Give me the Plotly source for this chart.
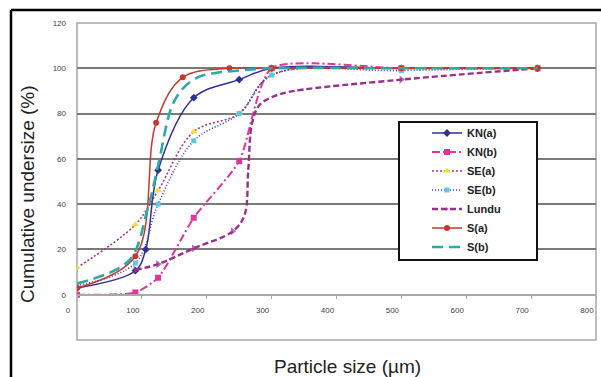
import plotly.graph_objects as go

# ---- data ----
kna_x = [0, 90, 106, 125, 180, 250, 300, 500, 710]
kna_y = [3, 10.6, 20, 55, 87, 95, 100, 100, 100]

knb_x = [0, 90, 125, 180, 250, 300, 500, 710]
knb_y = [0, 1, 7.5, 34, 59, 100, 100, 100]

sea_x = [0, 90, 125, 180, 250, 300, 500, 710]
sea_y = [12, 31, 46, 72, 80, 97, 100, 100]

seb_x = [0, 90, 125, 180, 250, 300, 500, 710]
seb_y = [4, 14, 40, 68, 80, 97, 99, 100]

lundu_x = [90, 125, 180, 240, 258, 264, 270, 282, 307, 335, 500, 710]
lundu_y = [11, 13.5, 20.5, 28, 35, 55, 76, 84, 88, 90, 95, 100]
lundu_marked = [90, 125, 180, 240, 500, 710]

sa_x = [0, 90, 122, 163, 235, 300, 500, 710]
sa_y = [3, 17, 76, 96, 100, 100, 100, 100]

sb_x = [0, 80, 108, 125, 146, 163, 186, 215, 250, 300, 500, 710]
sb_y = [5, 15, 37, 57, 83, 91, 96, 98, 99, 100, 100, 100]
sb_marked = [0, 80, 125, 300, 500, 710]

x_ticks = [0, 100, 200, 300, 400, 500, 600, 700, 800]
y_ticks = [0, 20, 40, 60, 80, 100, 120]

# ---- layout geometry (pixels) ----
W, H = 601, 377
L, R, T, B = 77, 596, 23, 340
pw, ph = R - L, B - T


def px(xp):
    return (xp - L) / pw


def py(yp):
    return (B - yp) / ph


FONT = "Liberation Sans, Arial, sans-serif"

fig = go.Figure()


def add(name, xs, ys, color, width, dash, symbol, msize, mcolor=None, marked=None, smooth=1.0):
    if marked is None:
        sizes = msize
    else:
        sizes = [msize if v in marked else 0 for v in xs]
    fig.add_trace(go.Scatter(
        x=xs, y=ys, name=name, mode="lines+markers",
        line=dict(color=color, width=width, dash=dash, shape="spline", smoothing=smooth),
        marker=dict(symbol=symbol, size=sizes, color=mcolor or color,
                    line=dict(width=0)),
    ))


add("KN(a)", kna_x, kna_y, "#2E3192", 1.5, "solid", "diamond", 6)
add("KN(b)", knb_x, knb_y, "#E0359A", 2, "8px,3px,2px,3px", "square", 6, smooth=0.6)
add("SE(a)", sea_x, sea_y, "#A0379B", 1.6, "2px,2px", "triangle-up", 7, "#F2E33A")
add("SE(b)", seb_x, seb_y, "#3A3AC8", 1.6, "1px,2px", "square", 5, "#5BC8E8")
add("Lundu", lundu_x, lundu_y, "#9B2F8E", 2.4, "6px,3px", "triangle-right", 7, marked=lundu_marked)
add("S(a)", sa_x, sa_y, "#C8372D", 1.5, "solid", "circle", 6)
add("S(b)", sb_x, sb_y, "#2FA8A8", 2.6, "11px,6px", "line-ew", 6, marked=sb_marked)

shapes = [
    # plot frame
    dict(type="rect", xref="paper", yref="paper", x0=0, x1=1, y0=0, y1=1,
         line=dict(color="#A8A8A8", width=1.5), layer="below"),
    # legend box
    dict(type="rect", xref="paper", yref="paper", x0=px(399), x1=px(537),
         y0=py(260), y1=py(122), line=dict(color="#111111", width=2),
         fillcolor="white", layer="above"),
    # outer picture frame (top and left)
    dict(type="line", xref="paper", yref="paper", x0=px(11), x1=px(620),
         y0=py(10), y1=py(10), line=dict(color="#000000", width=2.5)),
    dict(type="line", xref="paper", yref="paper", x0=px(11), x1=px(11),
         y0=py(10), y1=py(400), line=dict(color="#000000", width=2.5)),
]

annotations = [
    dict(text="Particle size (µm)", xref="paper", yref="paper",
         x=px(347), y=py(366), xanchor="center", yanchor="middle",
         showarrow=False, font=dict(family=FONT, size=19, color="#222222")),
    dict(text="Cumulative undersize (%)", xref="paper", yref="paper",
         x=px(27), y=py(194), xanchor="center", yanchor="middle", textangle=-90,
         showarrow=False, font=dict(family=FONT, size=19, color="#222222")),
]

fig.update_layout(
    width=W, height=H,
    margin=dict(l=L, r=W - R, t=T, b=H - B, pad=0),
    paper_bgcolor="white", plot_bgcolor="white",
    font=dict(family=FONT, color="#333333"),
    shapes=shapes, annotations=annotations,
    showlegend=True,
    legend=dict(x=px(427), y=py(190), xanchor="left", yanchor="middle",
                bgcolor="rgba(0,0,0,0)", borderwidth=0,
                font=dict(family=FONT, size=11, color="#222222", weight="bold"),
                itemwidth=30),
    xaxis=dict(range=[0, 800], tickvals=x_ticks, ticktext=[str(v) for v in x_ticks],
               anchor="free", position=20 / 140,
               showgrid=False, zeroline=False,
               showline=True, linecolor="#A8A8A8", linewidth=2,
               ticks="outside", ticklen=3, tickcolor="#A8A8A8",
               ticklabelshift=-9, ticklabelstandoff=5,
               tickfont=dict(family=FONT, size=8, color="#444444")),
    yaxis=dict(range=[-20, 120], tickvals=y_ticks, ticktext=[str(v) for v in y_ticks],
               showgrid=True, gridcolor="#7A7A7A", gridwidth=2,
               zeroline=False, showline=False, ticks="",
               ticklabelstandoff=10,
               tickfont=dict(family=FONT, size=8, color="#444444")),
)

fig.write_html("out.html")
